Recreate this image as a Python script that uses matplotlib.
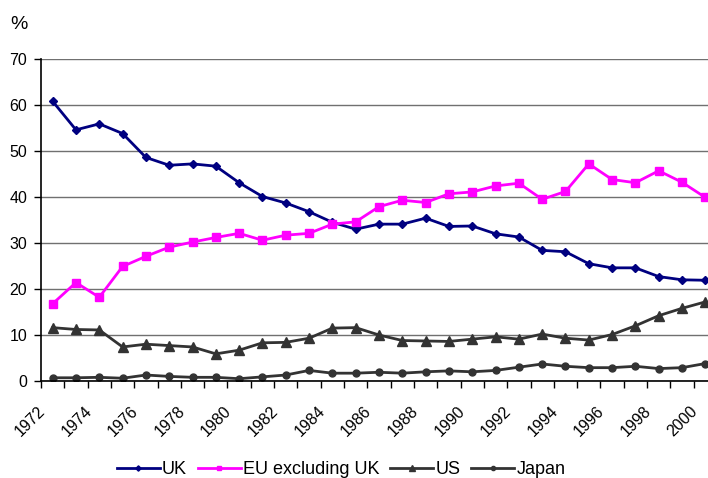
import matplotlib
matplotlib.use("Agg")
import matplotlib.pyplot as plt
import matplotlib.transforms as mtransforms
import numpy as np

plt.rcParams['font.family'] = ['Liberation Sans', 'DejaVu Sans']

years = list(range(1972, 2001))
uk = [60.8, 54.6, 55.9, 53.8, 48.6, 46.9, 47.2, 46.7, 43.1, 40.1, 38.7, 36.8, 34.5, 33.0,
      34.1, 34.1, 35.4, 33.6, 33.7, 32.0, 31.3, 28.4, 28.1, 25.5, 24.6, 24.6, 22.7, 22.0, 21.9]
eu = [16.8, 21.4, 18.2, 24.9, 27.1, 29.1, 30.2, 31.2, 32.1, 30.6, 31.7, 32.1, 34.1, 34.6,
      37.9, 39.3, 38.8, 40.7, 41.1, 42.4, 43.0, 39.5, 41.2, 47.2, 43.8, 43.1, 45.7, 43.2, 39.9]
us = [11.6, 11.2, 11.1, 7.4, 8.0, 7.7, 7.4, 5.9, 6.7, 8.3, 8.4, 9.3, 11.5, 11.6,
      10.0, 8.8, 8.7, 8.6, 9.1, 9.6, 9.1, 10.2, 9.3, 8.9, 10.1, 12.0, 14.2, 15.8, 17.2]
japan = [0.7, 0.7, 0.8, 0.6, 1.3, 1.0, 0.8, 0.8, 0.5, 0.9, 1.3, 2.3, 1.7, 1.7,
         1.9, 1.7, 2.0, 2.2, 2.0, 2.3, 3.0, 3.7, 3.2, 2.9, 2.9, 3.2, 2.7, 2.9, 3.8]

x = np.arange(len(years))

fig = plt.figure(figsize=(7.08, 4.78), dpi=100)
# plot area runs past the right edge of the figure
ax = fig.add_axes([41 / 708, 1 - 381 / 478, 676 / 708, 322 / 478])

ax.plot(x, uk, color='#000080', lw=2.0, marker='D', ms=4.5, label='UK')
ax.plot(x, eu, color='#FF00FF', lw=2.0, marker='s', ms=5.5, label='EU excluding UK')
ax.plot(x, us, color='#333333', lw=2.0, marker='^', ms=6.5, label='US')
ax.plot(x, japan, color='#333333', lw=2.0, marker='o', ms=5, label='Japan')

ax.set_xlim(-0.5, len(years) - 0.5)
ax.set_ylim(0, 70)
ax.set_yticks(range(0, 71, 10))
ax.yaxis.grid(True, color='#707070', lw=1.0)
ax.set_axisbelow(True)
for s in ['top', 'right']:
    ax.spines[s].set_visible(False)
ax.spines['left'].set_linewidth(1.2)
ax.spines['bottom'].set_linewidth(1.2)
ax.tick_params(axis='y', length=5, width=1, labelsize=11.5, pad=5)

# tick marks between categories, labels on every other year
ax.set_xticks(np.arange(-0.5, len(years)), minor=True)
ax.tick_params(axis='x', which='minor', length=5, width=1)
ax.set_xticks(x[::2], [str(y) for y in years[::2]])
ax.tick_params(axis='x', which='major', length=0, labelsize=11.5, pad=20)
shift = mtransforms.ScaledTranslation(-10 / 100, 0, fig.dpi_scale_trans)
for lab in ax.get_xticklabels():
    lab.set_rotation(45)
    lab.set_ha('right')
    lab.set_va('center')
    lab.set_rotation_mode('anchor')
    lab.set_transform(lab.get_transform() + shift)

fig.text(10 / 708, 1 - 29 / 478, '%', fontsize=14)

fig.legend(loc='lower center', bbox_to_anchor=(341 / 708, -0.035), ncol=4, frameon=False,
           handlelength=2.4, handletextpad=0.1, columnspacing=0.6,
           markerscale=0.6, prop={'family': ['Liberation Sans'], 'size': 13})

fig.savefig('out.png', dpi=100)
